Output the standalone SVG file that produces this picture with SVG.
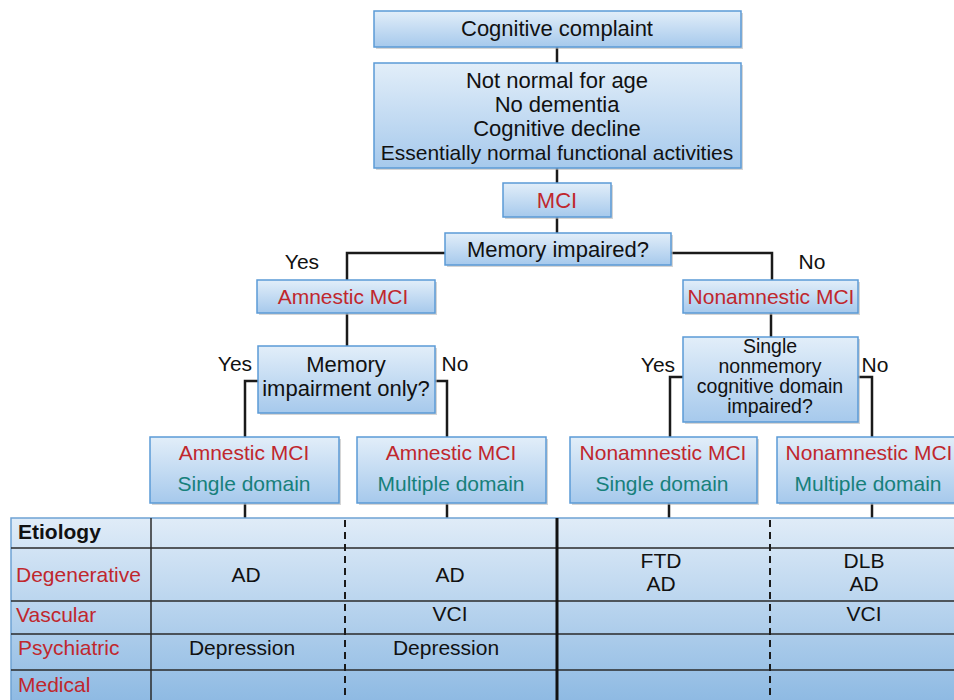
<svg xmlns="http://www.w3.org/2000/svg" width="954" height="700" viewBox="0 0 954 700">
<defs>
<linearGradient id="gBox" x1="0" y1="0" x2="0" y2="1">
<stop offset="0" stop-color="#e2eef9"/>
<stop offset="1" stop-color="#a6c9ec"/>
</linearGradient>
<linearGradient id="gTab" x1="0" y1="0" x2="0" y2="1">
<stop offset="0" stop-color="#e0ecf8"/>
<stop offset="1" stop-color="#8bb8e2"/>
</linearGradient>
</defs>
<style>
.box{fill:url(#gBox);stroke:#5b9ad6;stroke-width:1.5}
.sh{fill:#b9b9b9;opacity:0.6}
text{font-family:"Liberation Sans",Arial,sans-serif;font-size:21px;fill:#111}
.c{text-anchor:middle}
.lg{font-size:22px}
.sm{font-size:19.5px}
.red{fill:#c0272d}
.teal{fill:#17807b}
.ln{stroke:#1a1a1a;stroke-width:2.5;fill:none}
.tl{stroke:#2a2a2a;stroke-width:1.5}
.dash{stroke:#1a1a1a;stroke-width:2;stroke-dasharray:7 5}
</style>
<rect width="954" height="700" fill="#ffffff"/>

<g id="connectors">
<line class="ln" x1="557" y1="47" x2="557" y2="63"/>
<line class="ln" x1="557" y1="168" x2="557" y2="183"/>
<line class="ln" x1="557" y1="217" x2="557" y2="233"/>
<polyline class="ln" points="445,253 347,253 347,280"/>
<polyline class="ln" points="671,253 772,253 772,280"/>
<line class="ln" x1="347" y1="313" x2="347" y2="346"/>
<line class="ln" x1="771" y1="313" x2="771" y2="337"/>
<polyline class="ln" points="258,381 245,381 245,437"/>
<polyline class="ln" points="435,381 447,381 447,437"/>
<polyline class="ln" points="683,377 670,377 670,437"/>
<polyline class="ln" points="858,377 872,377 872,437"/>
<line class="ln" x1="245" y1="503" x2="245" y2="518"/>
<line class="ln" x1="447" y1="503" x2="447" y2="518"/>
<line class="ln" x1="669" y1="503" x2="669" y2="518"/>
<line class="ln" x1="872" y1="503" x2="872" y2="518"/>
</g>

<g id="n-complaint">
<rect class="sh" x="376" y="13" width="367" height="36"/>
<rect class="box" x="374" y="11" width="367" height="36"/>
<text class="c lg" x="557" y="36">Cognitive complaint</text>
</g>
<g id="n-criteria">
<rect class="sh" x="376" y="65" width="367" height="105"/>
<rect class="box" x="374" y="63" width="367" height="105"/>
<text class="c lg" x="557" y="88">Not normal for age</text>
<text class="c lg" x="557" y="112">No dementia</text>
<text class="c lg" x="557" y="136">Cognitive decline</text>
<text class="c" x="557" y="160">Essentially normal functional activities</text>
</g>
<g id="n-mci">
<rect class="sh" x="505" y="185" width="108" height="34"/>
<rect class="box" x="503" y="183" width="108" height="34"/>
<text class="c red lg" x="557" y="208">MCI</text>
</g>
<g id="n-memory">
<rect class="sh" x="447" y="235" width="226" height="32"/>
<rect class="box" x="445" y="233" width="226" height="32"/>
<text class="c lg" x="558" y="257">Memory impaired?</text>
</g>
<text class="c" x="302" y="269">Yes</text>
<text class="c" x="812" y="269">No</text>
<g id="n-amnestic">
<rect class="sh" x="259" y="282" width="178" height="33"/>
<rect class="box" x="257" y="280" width="178" height="33"/>
<text class="c red" x="343" y="304">Amnestic MCI</text>
</g>
<g id="n-nonamnestic">
<rect class="sh" x="685" y="282" width="175" height="33"/>
<rect class="box" x="683" y="280" width="175" height="33"/>
<text class="c red" x="771" y="304">Nonamnestic MCI</text>
</g>
<g id="n-memonly">
<rect class="sh" x="260" y="348" width="177" height="67"/>
<rect class="box" x="258" y="346" width="177" height="67"/>
<text class="c lg" x="346" y="372">Memory</text>
<text class="c lg" x="346" y="396">impairment only?</text>
</g>
<text class="c" x="235" y="371">Yes</text>
<text class="c" x="455" y="371">No</text>
<g id="n-single">
<rect class="sh" x="685" y="339" width="175" height="85"/>
<rect class="box" x="683" y="337" width="175" height="85"/>
<text class="c sm" x="770" y="353">Single</text>
<text class="c sm" x="770" y="373">nonmemory</text>
<text class="c sm" x="770" y="393">cognitive domain</text>
<text class="c sm" x="770" y="413">impaired?</text>
</g>
<text class="c" x="658" y="372">Yes</text>
<text class="c" x="875" y="372">No</text>

<g id="n-a-single">
<rect class="sh" x="152" y="439" width="189" height="66"/>
<rect class="box" x="150" y="437" width="189" height="66"/>
<text class="c red" x="244" y="460">Amnestic MCI</text>
<text class="c teal" x="244" y="491">Single domain</text>
</g>
<g id="n-a-multiple">
<rect class="sh" x="359" y="439" width="189" height="66"/>
<rect class="box" x="357" y="437" width="189" height="66"/>
<text class="c red" x="451" y="460">Amnestic MCI</text>
<text class="c teal" x="451" y="491">Multiple domain</text>
</g>
<g id="n-n-single">
<rect class="sh" x="572" y="439" width="187" height="66"/>
<rect class="box" x="570" y="437" width="187" height="66"/>
<text class="c red" x="663" y="460">Nonamnestic MCI</text>
<text class="c teal" x="662" y="491">Single domain</text>
</g>
<g id="n-n-multiple">
<rect class="sh" x="779" y="439" width="190" height="66"/>
<rect class="box" x="777" y="437" width="190" height="66"/>
<text class="c red" x="869" y="460">Nonamnestic MCI</text>
<text class="c teal" x="868" y="491">Multiple domain</text>
</g>

<g id="table">
<rect x="11" y="518" width="960" height="190" fill="url(#gTab)" stroke="#6fa2d4" stroke-width="1.5"/>
<line class="tl" x1="11" y1="548" x2="954" y2="548"/>
<line class="tl" x1="11" y1="601" x2="954" y2="601"/>
<line class="tl" x1="11" y1="634" x2="954" y2="634"/>
<line class="tl" x1="11" y1="670" x2="954" y2="670"/>
<line class="tl" x1="151" y1="518" x2="151" y2="700"/>
<line class="dash" x1="345" y1="520" x2="345" y2="700"/>
<line class="dash" x1="770" y1="520" x2="770" y2="700"/>
<line stroke="#111" stroke-width="3" x1="557" y1="518" x2="557" y2="700"/>
<text x="18" y="539" font-weight="bold">Etiology</text>
<text class="red" x="16" y="582">Degenerative</text>
<text class="red" x="16" y="622">Vascular</text>
<text class="red" x="18" y="655">Psychiatric</text>
<text class="red" x="18" y="692">Medical</text>
<text class="c" x="246" y="582">AD</text>
<text class="c" x="450" y="582">AD</text>
<text class="c" x="661" y="568">FTD</text>
<text class="c" x="661" y="591">AD</text>
<text class="c" x="864" y="568">DLB</text>
<text class="c" x="864" y="591">AD</text>
<text class="c" x="450" y="621">VCI</text>
<text class="c" x="864" y="621">VCI</text>
<text class="c" x="242" y="655">Depression</text>
<text class="c" x="446" y="655">Depression</text>
</g>
</svg>
